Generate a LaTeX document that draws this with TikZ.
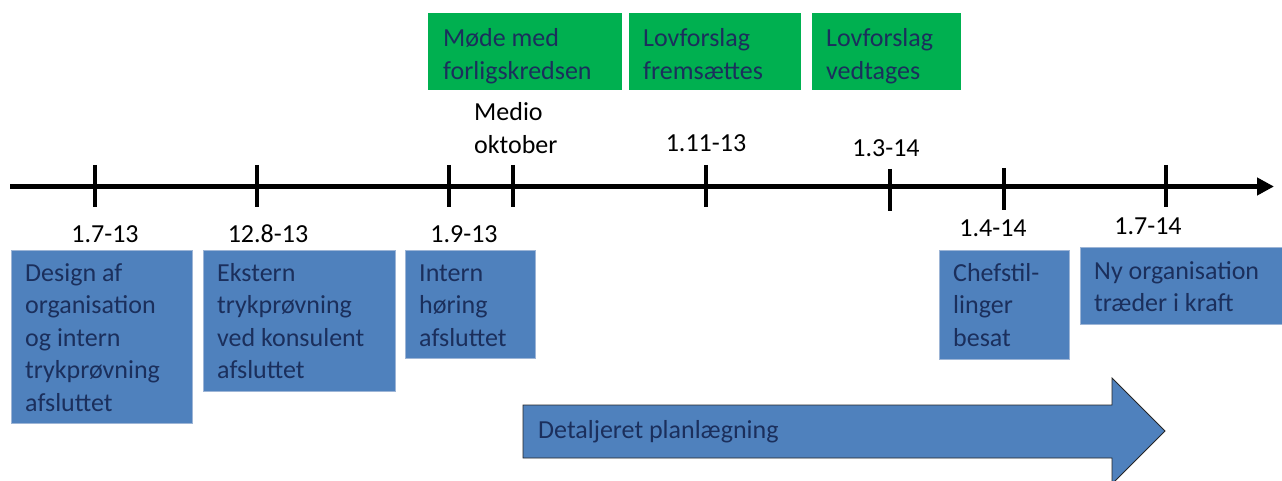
\documentclass[tikz,border=0pt]{standalone}
\usepackage{fontspec}
\setmainfont{Carlito}
\usetikzlibrary{arrows.meta}
\definecolor{boxblue}{HTML}{4F81BD}
\definecolor{boxgreen}{HTML}{00B050}
\definecolor{navytext}{HTML}{1B2F5C}
\definecolor{boxedge}{HTML}{9DB5D6}
\begin{document}
\begin{tikzpicture}[x=1pt,y=-1pt,
  every node/.style={font=\fontsize{26}{32.5}\selectfont},
  bluebox/.style={fill=boxblue,draw=boxedge,line width=0.8pt,anchor=north west,inner sep=0pt},
  greenbox/.style={fill=boxgreen,draw=none,anchor=north west,inner sep=0pt},
  boxtext/.style={anchor=base west,inner sep=0pt,align=left,text=navytext},
  datelabel/.style={text=black,inner sep=0pt},
  axisline/.style={line width=4.5pt,-{Triangle[length=17pt,width=17pt]}},
  tickline/.style={line width=4.5pt},
  bigarrow/.style={fill=boxblue,draw=black!85,line width=0.8pt,line join=miter}
]
\useasboundingbox (0,0) rectangle (1282,481);

% axis
\coordinate (ax0) at (10,186.5);
\coordinate (ax1) at (1274,186.5);
\draw[axisline] (ax0) -- (ax1);

% ticks
\foreach \n/\x/\ya/\yb in {t1/95/165/207, t2/257/165/207, t3/449/165/207, t4/513/165/207,
  t5/706/165/207, t6/890/169/211, t7/1004/168/210, t8/1166/165/207}{
  \coordinate (\n a) at (\x,\ya);
  \coordinate (\n b) at (\x,\yb);
  \draw[tickline] (\n a) -- (\n b);
}

% green boxes (text anchored at baseline of last line)
\node[greenbox,minimum width=194pt,minimum height=77pt] (g1) at (428,13) {};
\node[boxtext] (g1t) at (443,79.5) {Møde med\\forligskredsen};
\node[greenbox,minimum width=172pt,minimum height=77pt] (g2) at (629,13) {};
\node[boxtext] (g2t) at (643,79.5) {Lovforslag\\fremsættes};
\node[greenbox,minimum width=149pt,minimum height=77pt] (g3) at (812,13) {};
\node[boxtext] (g3t) at (826,79.5) {Lovforslag\\vedtages};

% labels above axis
\node[datelabel,align=left,anchor=base west] (lmedio) at (474,153.5) {Medio\\oktober};
\node[datelabel] (l111) at (706,143) {1.11-13};
\node[datelabel] (l314) at (886,148) {1.3-14};

% labels below axis
\node[datelabel] (l713) at (105,234) {1.7-13};
\node[datelabel] (l128) at (268,234) {12.8-13};
\node[datelabel] (l913) at (464,234) {1.9-13};
\node[datelabel] (l414) at (993,228) {1.4-14};
\node[datelabel] (l714) at (1148,226) {1.7-14};

% blue boxes
\node[bluebox,minimum width=181pt,minimum height=173pt] (b1) at (11,250) {};
\node[boxtext] (b1t) at (25,411) {Design af\\organisation\\og intern\\trykprøvning\\afsluttet};
\node[bluebox,minimum width=192pt,minimum height=141pt] (b2) at (203,250) {};
\node[boxtext] (b2t) at (217,378.5) {Ekstern\\trykprøvning\\ved konsulent\\afsluttet};
\node[bluebox,minimum width=130pt,minimum height=108pt] (b3) at (405,250) {};
\node[boxtext] (b3t) at (419,346) {Intern\\høring\\afsluttet};
\node[bluebox,minimum width=130pt,minimum height=109pt] (b4) at (939,250) {};
\node[boxtext] (b4t) at (953,346) {Chefstil-\\linger\\besat};
\node[bluebox,minimum width=205pt,minimum height=77pt] (b5) at (1080,247) {};
\node[boxtext] (b5t) at (1094,311.5) {Ny organisation\\træder i kraft};

% big arrow
\draw[bigarrow] (523,405) -- (1112,405) -- (1112,378) -- (1165,431) -- (1112,484)
  -- (1112,458) -- (523,458) -- cycle;
\node[anchor=west,inner sep=0pt,text=navytext] (plan) at (538,431.5) {Detaljeret planlægning};
\end{tikzpicture}
\end{document}
